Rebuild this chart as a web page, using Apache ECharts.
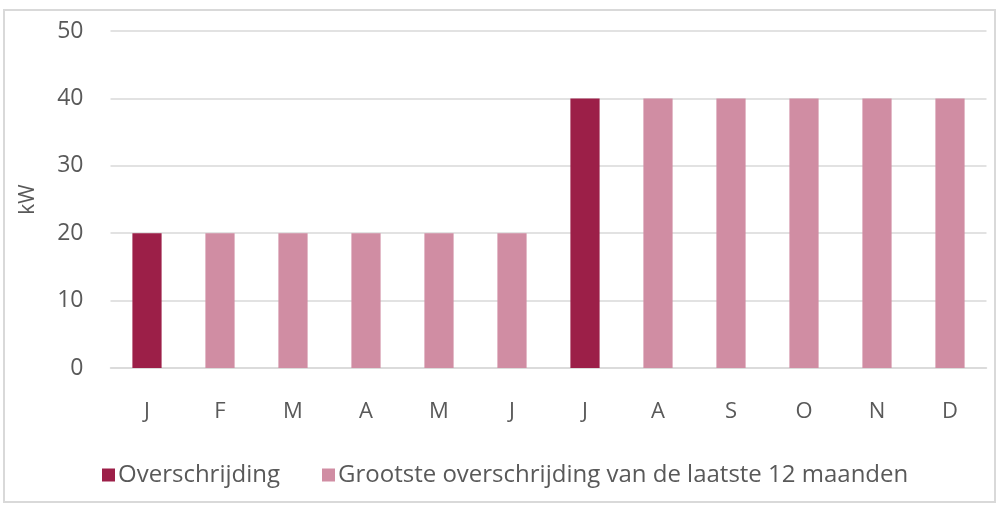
<!DOCTYPE html>
<html><head><meta charset="utf-8">
<script src="https://cdn.jsdelivr.net/npm/echarts@6/dist/echarts.min.js"></script>
<style>html,body{margin:0;padding:0;background:#fff}#c{width:1002px;height:505px}</style>
</head><body><div id="c"></div>
<script>
const categories = ['J','F','M','A','M','J','J','A','S','O','N','D'];
const overschrijding = [20,null,null,null,null,null,40,null,null,null,null,null];
const grootste = [null,20,20,20,20,20,null,40,40,40,40,40];
const seriesNames = ['Overschrijding','Grootste overschrijding van de laatste 12 maanden'];
const yTicks = {min:0,max:50,interval:10};

const chart = echarts.init(document.getElementById('c'));
const font = 'Open Sans';
chart.setOption({
  animation:false,
  textStyle:{fontFamily:font},
  graphic:[{type:'rect',shape:{x:4,y:10,width:991,height:492},style:{fill:'none',stroke:'#d9d9d9',lineWidth:2},silent:true}],
  grid:{left:110.5,right:15.5,top:31,bottom:137,containLabel:false},
  legend:{
    data:seriesNames, left:97, top:458, itemWidth:13, itemHeight:13, itemGap:42,
    icon:'rect',
    textStyle:{color:'#595959',fontSize:24,fontFamily:font,padding:[0,0,0,-2]}
  },
  xAxis:{type:'category',data:categories,
    axisLine:{lineStyle:{color:'#d9d9d9',width:1.5}},axisTick:{show:false},
    axisLabel:{color:'#595959',fontSize:22,margin:33,fontFamily:font}},
  yAxis:{type:'value',min:yTicks.min,max:yTicks.max,interval:yTicks.interval,
    name:'kW',nameLocation:'middle',nameGap:72,nameRotate:90,
    nameTextStyle:{color:'#595959',fontSize:21,fontFamily:font},
    axisLine:{show:false},axisTick:{show:false},
    axisLabel:{color:'#595959',fontSize:23,margin:27,fontFamily:font},
    splitLine:{lineStyle:{color:'#d9d9d9',width:1.5}}},
  series:[
    {name:seriesNames[0],type:'bar',stack:'a',data:overschrijding,barWidth:'40%',itemStyle:{color:'#9c1f48'}},
    {name:seriesNames[1],type:'bar',stack:'a',data:grootste,barWidth:'40%',itemStyle:{color:'#d08da3'}}
  ]
});
</script></body></html>
